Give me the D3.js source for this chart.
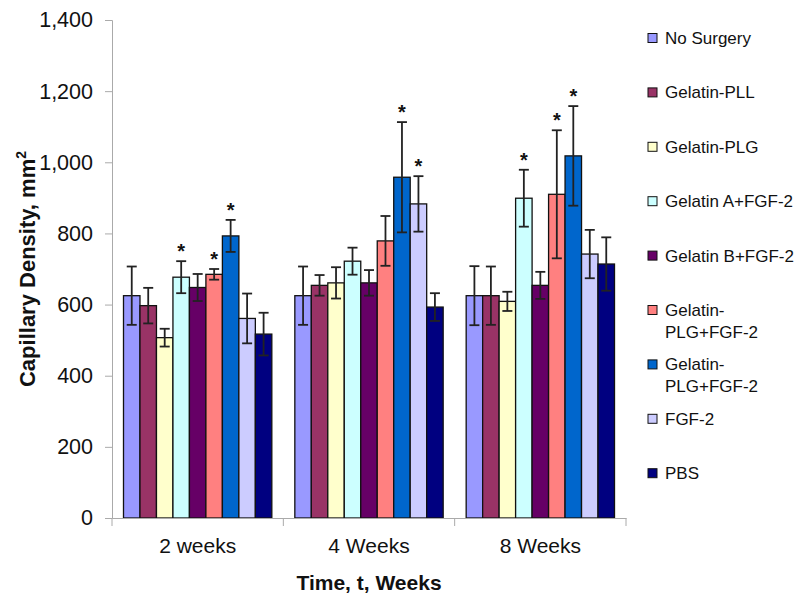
<!DOCTYPE html>
<html>
<head>
<meta charset="utf-8">
<script src="https://cdn.jsdelivr.net/npm/d3@7"></script>
<style>
  html, body { margin: 0; padding: 0; background: #fff; }
  svg { display: block; font-family: "Liberation Sans", Arial, sans-serif; }
</style>
</head>
<body>
<svg id="chart" width="800" height="601"></svg>
<script>
const categories = ["2 weeks", "4 Weeks", "8 Weeks"];
const seriesNames = ["No Surgery", "Gelatin-PLL", "Gelatin-PLG", "Gelatin A+FGF-2", "Gelatin B+FGF-2",
  "Gelatin-\nPLG+FGF-2", "Gelatin-\nPLG+FGF-2", "FGF-2", "PBS"];
const seriesColors = ["#9999FF", "#993366", "#FFFFCC", "#CCFFFF", "#660066", "#FF8080", "#0066CC", "#CCCCFF", "#000080"];
// values[series][category]
const values = [
  [625, 625, 625],
  [597, 654, 625],
  [507, 661, 609],
  [677, 722, 899],
  [648, 661, 654],
  [685, 779, 910],
  [793, 958, 1018],
  [561, 883, 742],
  [517, 593, 714]
];
const errors = [
  [82, 82, 83],
  [50, 29, 82],
  [25, 44, 27],
  [45, 38, 80],
  [38, 36, 38],
  [15, 70, 180],
  [45, 155, 140],
  [70, 78, 68],
  [60, 39, 75]
];
// significance markers: [series][category]
const stars = [
  [0, 0, 0],
  [0, 0, 0],
  [0, 0, 0],
  [1, 0, 1],
  [0, 0, 0],
  [1, 0, 1],
  [1, 1, 1],
  [0, 1, 0],
  [0, 0, 0]
];
const yTicks = [0, 200, 400, 600, 800, 1000, 1200, 1400];

const svg = d3.select("#chart");
const mLeft = 112, mRight = 626, mTop = 20, mBottom = 518;

const y = d3.scaleLinear().domain([0, 1400]).range([mBottom, mTop]);
const x0 = d3.scaleBand().domain(categories).range([mLeft, mRight]).paddingInner(0).paddingOuter(0);
const gap = 23;
const x1 = d3.scaleBand().domain(d3.range(seriesNames.length)).range([gap / 2, x0.bandwidth() - gap / 2]).padding(0);

const data = [];
seriesNames.forEach((s, i) => categories.forEach((c, j) => {
  data.push({ s: i, c, v: values[i][j], e: errors[i][j], star: stars[i][j] });
}));

// bars
svg.append("g").selectAll("rect").data(data).join("rect")
  .attr("x", d => x0(d.c) + x1(d.s))
  .attr("y", d => y(d.v))
  .attr("width", x1.bandwidth())
  .attr("height", d => y(0) - y(d.v))
  .attr("fill", d => seriesColors[d.s])
  .attr("stroke", "#111")
  .attr("stroke-width", 1.3);

// error bars
const eg = svg.append("g").attr("stroke", "#222").attr("stroke-width", 1.8);
data.forEach(d => {
  const cx = x0(d.c) + x1(d.s) + x1.bandwidth() / 2;
  const yt = y(d.v + d.e), yb = y(d.v - d.e);
  eg.append("line").attr("x1", cx).attr("x2", cx).attr("y1", yt).attr("y2", yb);
  eg.append("line").attr("x1", cx - 5).attr("x2", cx + 5).attr("y1", yt).attr("y2", yt);
  eg.append("line").attr("x1", cx - 5).attr("x2", cx + 5).attr("y1", yb).attr("y2", yb);
});

// stars
svg.append("g").selectAll("text").data(data.filter(d => d.star)).join("text")
  .attr("x", d => x0(d.c) + x1(d.s) + x1.bandwidth() / 2)
  .attr("y", d => y(d.v + d.e) - 3)
  .attr("text-anchor", "middle")
  .attr("font-size", 20)
  .attr("font-weight", "bold")
  .attr("fill", "#111")
  .text("*");

// y axis
const yAxis = svg.append("g").attr("transform", `translate(${mLeft},0)`)
  .call(d3.axisLeft(y).tickValues(yTicks).tickSize(7).tickPadding(12).tickFormat(d3.format(",")));
yAxis.select(".domain").attr("stroke", "#aaa");
yAxis.selectAll(".tick line").attr("stroke", "#aaa");
yAxis.selectAll(".tick text").attr("font-size", 21.5).attr("fill", "#111")
  .attr("font-family", "Liberation Sans, Arial, sans-serif");

// x axis
const xAxis = svg.append("g").attr("transform", `translate(0,${mBottom})`)
  .call(d3.axisBottom(x0).tickSize(0).tickPadding(0));
xAxis.select(".domain").attr("stroke", "#aaa");
xAxis.selectAll(".tick text").attr("font-size", 21).attr("fill", "#111").attr("dy", 0).attr("y", 35)
  .attr("font-family", "Liberation Sans, Arial, sans-serif");
// category boundary ticks
const bounds = categories.map(c => x0(c)).concat([x0(categories[categories.length - 1]) + x0.bandwidth()]);
svg.append("g").selectAll("line").data(bounds).join("line")
  .attr("x1", d => d).attr("x2", d => d).attr("y1", mBottom).attr("y2", mBottom + 8)
  .attr("stroke", "#aaa");

// axis titles
svg.append("text").attr("x", (mLeft + mRight) / 2).attr("y", 590)
  .attr("text-anchor", "middle").attr("font-size", 21).attr("font-weight", "bold").attr("fill", "#111")
  .text("Time, t, Weeks");
const ytitle = svg.append("text").attr("transform", `translate(35,${(mTop + mBottom) / 2}) rotate(-90)`)
  .attr("text-anchor", "middle").attr("font-size", 22).attr("font-weight", "bold").attr("fill", "#111");
ytitle.append("tspan").text("Capillary Density, mm");
ytitle.append("tspan").attr("dy", -9).attr("font-size", 14).text("2");

// legend
const lg = svg.append("g");
seriesNames.forEach((name, i) => {
  const cy = 38 + i * 54.4;
  lg.append("rect").attr("x", 648).attr("y", cy - 4.5).attr("width", 9).attr("height", 9)
    .attr("fill", seriesColors[i]).attr("stroke", "#111").attr("stroke-width", 1);
  const t = lg.append("text").attr("x", 665).attr("y", cy + 6).attr("font-size", 17).attr("fill", "#111");
  name.split("\n").forEach((line, k) => {
    t.append("tspan").attr("x", 665).attr("dy", k === 0 ? 0 : 22).text(line);
  });
});
</script>
</body>
</html>
